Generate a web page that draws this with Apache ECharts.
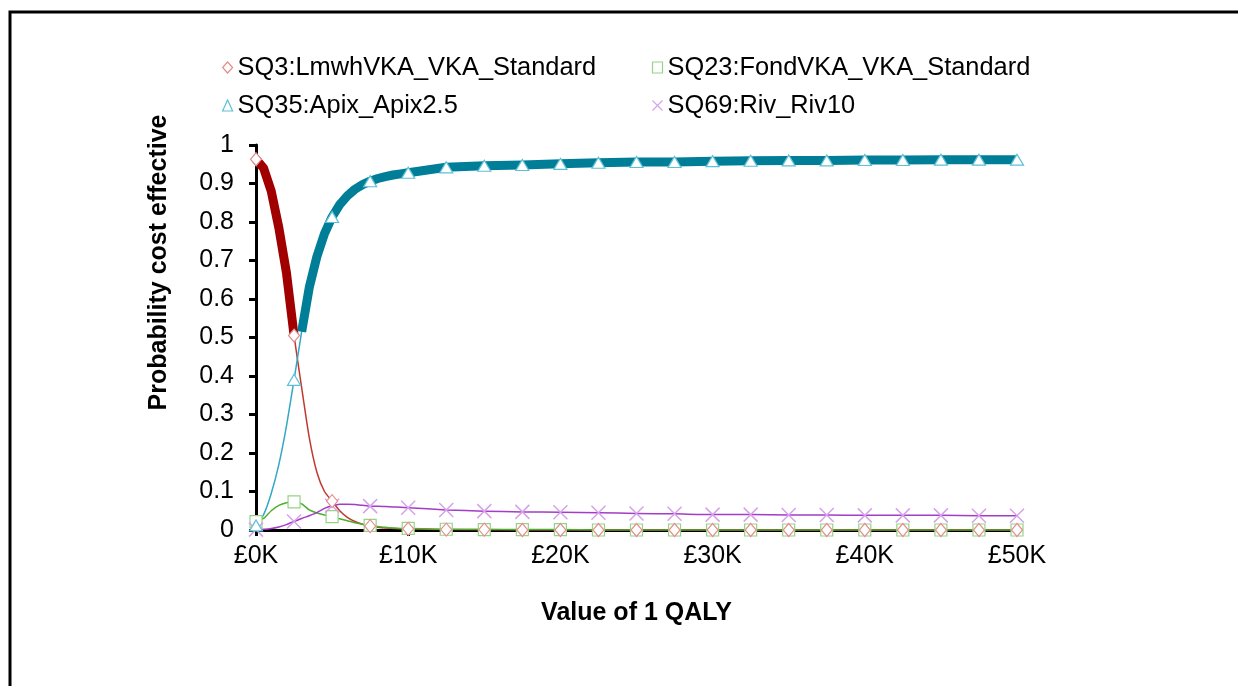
<!DOCTYPE html>
<html>
<head>
<meta charset="utf-8">
<script src="https://cdn.jsdelivr.net/npm/echarts@6/dist/echarts.min.js"></script>
<style>
html,body{margin:0;padding:0;background:#fff;}
#chart{width:1238px;height:686px;}
</style>
</head>
<body>
<div id="chart"></div>
<script>
// Value of 1 QALY, in thousands of pounds
const xK = [0,0.5,1,1.5,2,2.5,3,3.5,4,4.5,5,5.5,6,6.5,7,7.5,8,8.5,9,9.5,10,12.5,15,17.5,20,22.5,25,27.5,30,32.5,35,37.5,40,42.5,45,47.5,50];
const seriesNames = ['SQ3:LmwhVKA_VKA_Standard','SQ23:FondVKA_VKA_Standard','SQ35:Apix_Apix2.5','SQ69:Riv_Riv10'];
const sq3  = [0.963,0.94,0.88,0.785,0.668,0.505,0.37,0.24,0.15,0.10,0.075,0.05,0.033,0.022,0.015,0.010,0.007,0.005,0.004,0.003,0.003,0.001,0.001,0,0,0,0,0,0,0,0,0,0,0,0,0,0];
const sq23 = [0.022,0.03,0.05,0.064,0.071,0.073,0.068,0.052,0.044,0.039,0.035,0.029,0.024,0.019,0.015,0.012,0.009,0.007,0.005,0.004,0.004,0.002,0.001,0.001,0.001,0,0,0,0,0,0,0,0,0,0,0,0];
const sq35 = [0.012,0.04,0.095,0.17,0.27,0.39,0.515,0.63,0.71,0.77,0.813,0.845,0.868,0.885,0.897,0.906,0.913,0.918,0.922,0.925,0.928,0.942,0.946,0.948,0.951,0.954,0.956,0.956,0.958,0.959,0.96,0.96,0.961,0.961,0.962,0.962,0.962];
const sq69 = [0.001,0.002,0.004,0.008,0.014,0.022,0.03,0.037,0.045,0.056,0.063,0.067,0.067,0.066,0.064,0.062,0.062,0.061,0.06,0.059,0.058,0.052,0.049,0.047,0.046,0.045,0.043,0.042,0.04,0.04,0.039,0.039,0.038,0.038,0.038,0.037,0.037];
// frontier: SQ3 optimal up to 2.5K, Apix from 3K on
const frontierSwitchK = 2.75;
const markerStepK = 2.5;
const xTicks = [0,10,20,30,40,50];

const FONT = '"Liberation Sans", Arial, sans-serif';
const pairs = (ys) => xK.map((x, i) => [x, ys[i]]);
const markerPairs = (ys) => xK.map((x, i) => [x, ys[i]]).filter(p => Math.abs(p[0] / markerStepK - Math.round(p[0] / markerStepK)) < 1e-9);

const styles = [
  {line:'#C0392F', mark:'#E58C8C', symbol:'diamond', size:[11,13]},
  {line:'#4DAF2E', mark:'#95D486', symbol:'rect', size:12},
  {line:'#33A8C6', mark:'#5EC0D6', symbol:'triangle', size:[13,11]},
  {line:'#A33CC6', mark:'#D6A2EA', symbol:'path://M0,0L10,10M10,0L0,10', size:14}
];
const datasets = [sq3, sq23, sq35, sq69];

const series = [];
// thin lines
datasets.forEach((ys, k) => {
  series.push({
    name: seriesNames[k], type:'line', data: pairs(ys), showSymbol:false, symbol:'none',
    smooth:0.2, z:2,
    lineStyle:{color:styles[k].line, width:1.5, join:'round'}, itemStyle:{color:styles[k].line},
    emphasis:{disabled:true}, silent:true
  });
});
// thick frontier segments
series.push({
  name:'frontierSQ3', type:'line', data: pairs(sq3).filter(p => p[0] <= frontierSwitchK),
  symbol:'none', smooth:false, z:3,
  lineStyle:{color:'#A00000', width:9, cap:'butt', join:'round'}, silent:true
});
series.push({
  name:'frontierSQ35', type:'line', data: pairs(sq35).filter(p => p[0] >= frontierSwitchK),
  symbol:'none', smooth:false, z:3,
  lineStyle:{color:'#007E98', width:9, cap:'butt', join:'round'}, silent:true
});
// markers
[1,3,2,0].forEach(k => {
  series.push({
    name: seriesNames[k], type:'scatter', data: markerPairs(datasets[k]), z:4,
    symbol: styles[k].symbol, symbolSize: styles[k].size,
    itemStyle:{color: k === 3 ? 'none' : '#fff', borderColor: styles[k].mark, borderWidth: k === 3 ? 1.5 : 1.2, opacity:1},
    silent:true
  });
});

const legendItem = (k) => ({
  name: seriesNames[k], icon: styles[k].symbol,
  itemStyle:{color: k === 3 ? 'none' : '#fff', borderColor: styles[k].mark, borderWidth:1.2}
});

const option = {
  animation:false,
  backgroundColor:'#fff',
  textStyle:{fontFamily:FONT},
  graphic:[{
    type:'polyline', shape:{points:[[10,686],[10,12],[1238,12]]},
    style:{stroke:'#000', lineWidth:3, fill:null}, silent:true
  }],
  legend:[
    {orient:'vertical', left:217, top:50, itemWidth:10, itemHeight:11, itemGap:13,
     textStyle:{fontSize:25.4, color:'#000', fontFamily:FONT}, selectedMode:false,
     data:[legendItem(0), legendItem(2)]},
    {orient:'vertical', left:645, top:50, itemWidth:10, itemHeight:11, itemGap:13,
     textStyle:{fontSize:25.4, color:'#000', fontFamily:FONT}, selectedMode:false,
     data:[legendItem(1), legendItem(3)]}
  ],
  grid:{left:256, right:221, top:145, bottom:156, containLabel:false},
  xAxis:{
    type:'value', min:xTicks[0], max:xTicks[xTicks.length-1], interval:10,
    axisLine:{show:true, onZero:false, lineStyle:{color:'#000', width:3}},
    axisTick:{show:true, length:6, lineStyle:{color:'#000', width:3}},
    axisLabel:{formatter:(v) => '£' + v + 'K', fontSize:25, color:'#000', margin:14, fontFamily:FONT},
    splitLine:{show:false},
    name:'Value of 1 QALY', nameLocation:'middle', nameGap:71,
    nameTextStyle:{fontSize:25, fontWeight:'bold', color:'#000', fontFamily:FONT}
  },
  yAxis:{
    type:'value', min:0, max:1, interval:0.1,
    axisLine:{show:true, lineStyle:{color:'#000', width:3}},
    axisTick:{show:true, length:7, lineStyle:{color:'#000', width:3}},
    axisLabel:{formatter:(v) => String(Math.round(v*10)/10), fontSize:25, color:'#000', margin:22, fontFamily:FONT},
    splitLine:{show:false},
    name:'Probability cost effective', nameLocation:'middle', nameGap:84, nameRotate:90,
    nameTextStyle:{fontSize:25, fontWeight:'bold', color:'#000', fontFamily:FONT, padding:[0,0,0,150]}
  },
  series: series
};

const chart = echarts.init(document.getElementById('chart'), null, {renderer:'canvas'});
chart.setOption(option);
</script>
</body>
</html>
